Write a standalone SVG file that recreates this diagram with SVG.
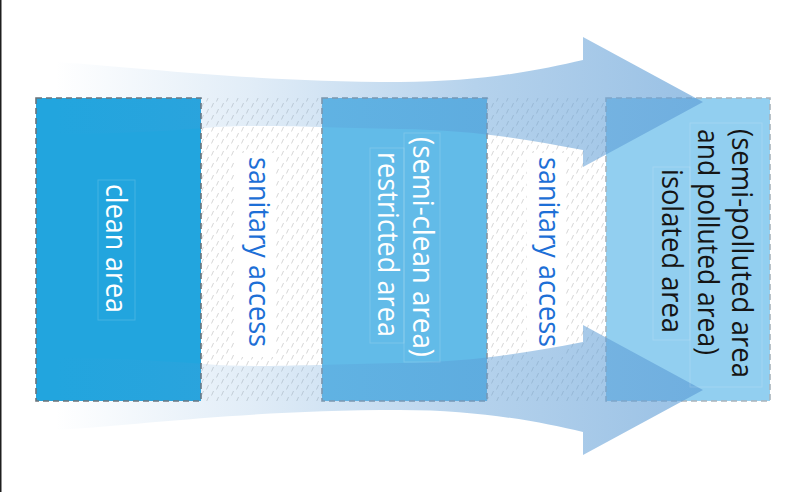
<svg xmlns="http://www.w3.org/2000/svg" width="800" height="492" viewBox="0 0 800 492">
  <style>
    .lbl { font-family: "Open Sans", "Noto Sans", "Liberation Sans", sans-serif; font-size: 29.5px; }
    .white { fill: #ffffff; }
    .blue { fill: #1d6fd6; }
    .dark { fill: #151515; }
    .box { stroke-width: 1.6; stroke-dasharray: 6 4; }
    .lblbox { fill: none; stroke: #ffffff; stroke-opacity: 0.16; stroke-width: 1; }
    .arrow { fill: url(#arrowGrad); }
  </style>
  <defs>
    <pattern id="hatch" width="10" height="12" patternUnits="userSpaceOnUse">
      <path d="M1.5,11.5 L3.5,7 M6.5,5.5 L8.5,1" stroke="#d2d2d2" stroke-width="0.9" fill="none"/>
    </pattern>
    <linearGradient id="arrowGrad" gradientUnits="userSpaceOnUse" x1="55" y1="0" x2="700" y2="0">
      <stop offset="0" stop-color="#5b9bd5" stop-opacity="0"/>
      <stop offset="0.3" stop-color="#5b9bd5" stop-opacity="0.18"/>
      <stop offset="0.65" stop-color="#5b9bd5" stop-opacity="0.45"/>
      <stop offset="1" stop-color="#5b9bd5" stop-opacity="0.62"/>
    </linearGradient>
  </defs>

  <rect x="0" y="0" width="800" height="492" fill="#ffffff"/>
  <rect x="0" y="0" width="1.5" height="492" fill="#1e1e1e"/>

  <!-- sanitary access zones (hatched) -->
  <g id="sanitary1">
    <rect x="201" y="98" width="121" height="303" fill="url(#hatch)"/>
    <rect x="236" y="153" width="38" height="204" fill="#ffffff"/>
  </g>
  <g id="sanitary2">
    <rect x="487" y="98" width="119" height="303" fill="url(#hatch)"/>
    <rect x="527" y="153" width="38" height="204" fill="#ffffff"/>
  </g>

  <!-- areas -->
  <g id="clean-area">
    <rect class="box" x="36" y="98" width="165" height="303" fill="#22a5de" stroke="#6a737a"/>
  </g>
  <g id="restricted-area">
    <rect class="box" x="322" y="98" width="165" height="303" fill="#62bbe8" stroke="#8895a0"/>
  </g>
  <g id="isolated-area">
    <rect class="box" x="606" y="98" width="164" height="303" fill="#92cff0" stroke="#a9b4bc"/>
  </g>

  <!-- flow arrows -->
  <g id="connectors">
    <path class="arrow" d="M55,62 C150,68 250,82 400,82 C480,82 540,70 583,60 L583,37 L703,102 L583,167 L583,150 C520,138 470,130 400,129 C300,127 250,124 205,128 C150,132 100,134 55,134 Z"/>
    <path class="arrow" transform="matrix(1 0 0 -1 0 492)" d="M55,62 C150,68 250,82 400,82 C480,82 540,70 583,60 L583,37 L703,102 L583,167 L583,150 C520,138 470,130 400,129 C300,127 250,124 205,128 C150,132 100,134 55,134 Z"/>
  </g>

  <!-- labels -->
  <g id="clean-area-label">
    <rect class="lblbox" x="98" y="180" width="37" height="140"/>
    <text class="lbl white" transform="translate(106,184) rotate(90)" textLength="129" lengthAdjust="spacingAndGlyphs">clean area</text>
  </g>
  <g id="sanitary1-label">
    <text class="lbl blue" transform="translate(249,157) rotate(90)" textLength="190" lengthAdjust="spacingAndGlyphs">sanitary access</text>
  </g>
  <g id="restricted-area-label">
    <rect class="lblbox" x="404" y="133" width="36" height="229"/>
    <rect class="lblbox" x="370" y="148" width="34" height="195"/>
    <text class="lbl white" transform="translate(413,137) rotate(90)" textLength="220" lengthAdjust="spacingAndGlyphs">(semi-clean area)</text>
    <text class="lbl white" transform="translate(378,152) rotate(90)" textLength="185" lengthAdjust="spacingAndGlyphs">restricted area</text>
  </g>
  <g id="sanitary2-label">
    <text class="lbl blue" transform="translate(539,157) rotate(90)" textLength="190" lengthAdjust="spacingAndGlyphs">sanitary access</text>
  </g>
  <g id="isolated-area-label">
    <rect class="lblbox" x="690" y="123" width="72" height="264"/>
    <rect class="lblbox" x="653" y="167" width="37" height="173"/>
    <text class="lbl dark" transform="translate(732,129) rotate(90)" textLength="249" lengthAdjust="spacingAndGlyphs">(semi-polluted area</text>
    <text class="lbl dark" transform="translate(698,129) rotate(90)" textLength="226" lengthAdjust="spacingAndGlyphs">and polluted area)</text>
    <text class="lbl dark" transform="translate(662,169) rotate(90)" textLength="164" lengthAdjust="spacingAndGlyphs">isolated area</text>
  </g>
</svg>
